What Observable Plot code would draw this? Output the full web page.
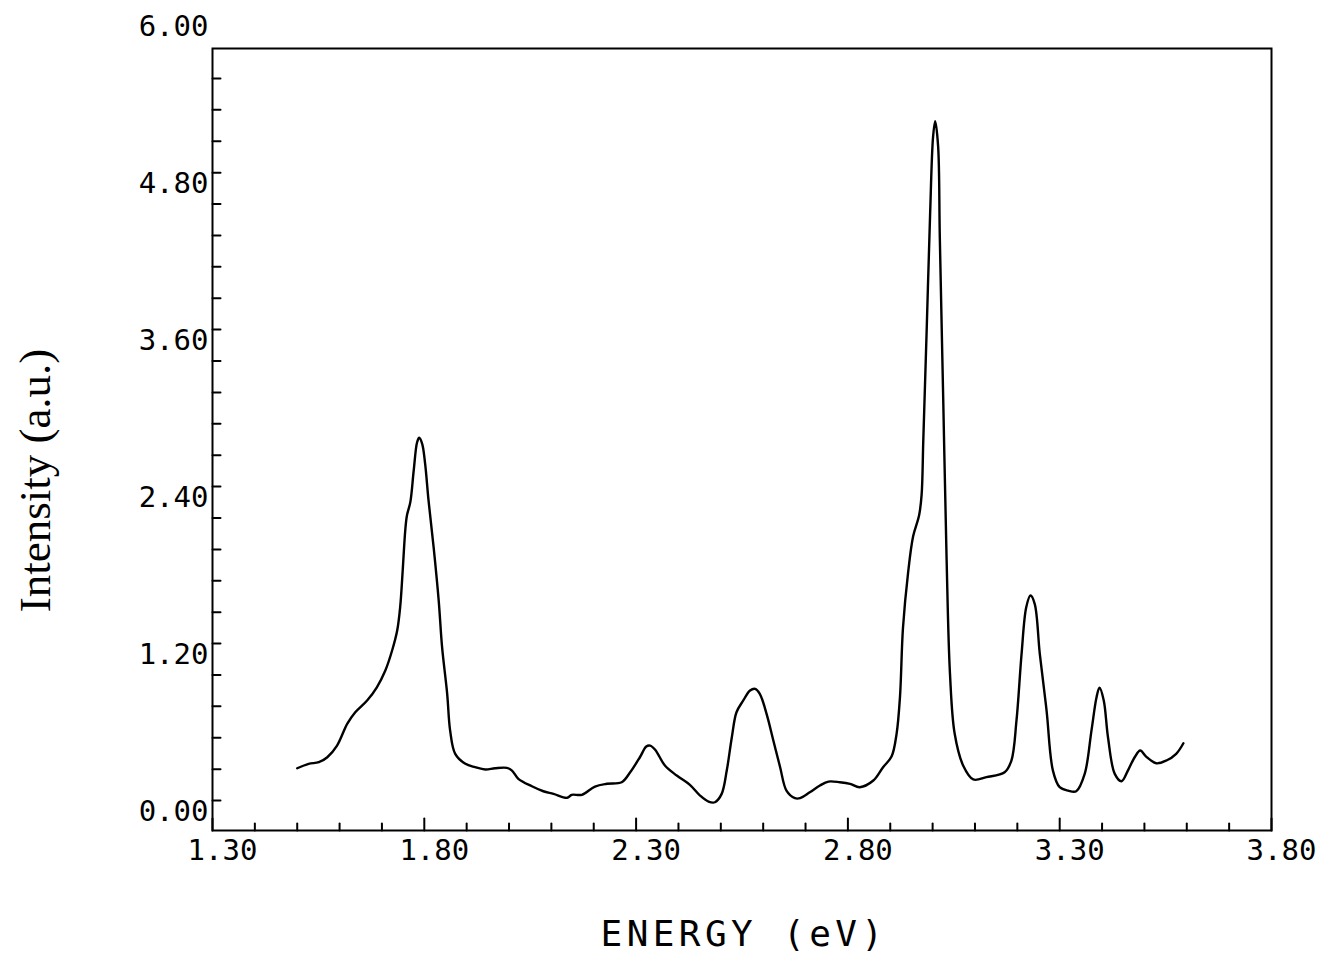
<!DOCTYPE html>
<html>
<head>
<meta charset="utf-8">
<script src="https://cdn.jsdelivr.net/npm/d3@7"></script>
<script src="https://cdn.jsdelivr.net/npm/@observablehq/plot@0.6"></script>
<style>
  html, body { margin: 0; padding: 0; background: #fff; }
  #chart svg { display: block; }
</style>
</head>
<body>
<div id="chart"></div>
<script>
// Spectrum
const energy = [
  1.500, 1.527, 1.551, 1.571, 1.594, 1.618, 1.637, 1.665, 1.688, 1.708,
  1.724, 1.736, 1.743, 1.749, 1.755, 1.759, 1.767, 1.775, 1.783, 1.788,
  1.795, 1.802, 1.810, 1.822, 1.834, 1.842, 1.854, 1.861, 1.873, 1.897,
  1.920, 1.944, 1.967, 1.995, 2.007, 2.022, 2.054, 2.081, 2.105, 2.137,
  2.148, 2.172, 2.203, 2.231, 2.266, 2.286, 2.309, 2.324, 2.333, 2.345,
  2.368, 2.396, 2.427, 2.451, 2.471, 2.486, 2.502, 2.514, 2.526, 2.537,
  2.553, 2.569, 2.581, 2.592, 2.608, 2.624, 2.640, 2.655, 2.675, 2.687,
  2.710, 2.734, 2.754, 2.781, 2.805, 2.828, 2.860, 2.883, 2.903, 2.915,
  2.923, 2.930, 2.942, 2.954, 2.968, 2.974, 2.978, 2.986, 2.994, 3.001,
  3.006, 3.013, 3.017, 3.025, 3.033, 3.041, 3.052, 3.072, 3.096, 3.127,
  3.170, 3.186, 3.198, 3.210, 3.221, 3.231, 3.241, 3.253, 3.269, 3.284,
  3.300, 3.320, 3.339, 3.359, 3.375, 3.387, 3.394, 3.404, 3.414, 3.430,
  3.446, 3.461, 3.477, 3.490, 3.504, 3.528, 3.552, 3.575, 3.592
];
const intensity = [
  0.247, 0.281, 0.293, 0.331, 0.420, 0.586, 0.675, 0.765, 0.866, 0.994,
  1.147, 1.300, 1.478, 1.758, 2.064, 2.179, 2.281, 2.523, 2.739, 2.773,
  2.727, 2.574, 2.294, 1.937, 1.529, 1.172, 0.816, 0.535, 0.357, 0.281,
  0.255, 0.237, 0.247, 0.250, 0.229, 0.166, 0.109, 0.071, 0.051, 0.021,
  0.044, 0.044, 0.107, 0.128, 0.140, 0.216, 0.331, 0.413, 0.420, 0.388,
  0.268, 0.191, 0.120, 0.038, -0.008, -0.013, 0.051, 0.229, 0.484, 0.675,
  0.765, 0.841, 0.854, 0.816, 0.663, 0.459, 0.255, 0.076, 0.018, 0.018,
  0.063, 0.115, 0.145, 0.140, 0.128, 0.102, 0.153, 0.255, 0.336, 0.512,
  0.795, 1.319, 1.739, 2.020, 2.179, 2.336, 2.757, 3.601, 4.475, 5.071,
  5.194, 5.001, 4.300, 3.073, 1.845, 0.968, 0.512, 0.268, 0.161, 0.179,
  0.216, 0.306, 0.612, 1.122, 1.478, 1.567, 1.504, 1.122, 0.688, 0.229,
  0.102, 0.076, 0.071, 0.204, 0.535, 0.790, 0.862, 0.765, 0.484, 0.204,
  0.148, 0.229, 0.331, 0.382, 0.336, 0.285, 0.306, 0.357, 0.438
];

// Axis tick values and labels
const xMajorTicks = [1.30, 1.80, 2.30, 2.80, 3.30, 3.80];
const xMinorTicks = [1.4, 1.5, 1.6, 1.7, 1.9, 2.0, 2.1, 2.2, 2.4, 2.5, 2.6, 2.7,
                     2.9, 3.0, 3.1, 3.2, 3.4, 3.5, 3.6, 3.7];
const yLabelTicks = [0.00, 1.20, 2.40, 3.60, 4.80, 6.00];
const yTicks = [0.00, 0.24, 0.48, 0.72, 0.96, 1.20, 1.44, 1.68, 1.92, 2.16, 2.40,
                2.64, 2.88, 3.12, 3.36, 3.60, 3.84, 4.08, 4.32, 4.56, 4.80,
                5.04, 5.28, 5.52];
const xTitle = "ENERGY (eV)";
const yTitle = "Intensity (a.u.)";

const data = energy.map((e, i) => ({e, v: intensity[i]}));

const tickShape = {
  draw(context, l) { context.moveTo(0, 0); context.lineTo(0, -l); }
};
const mono = "DejaVu Sans Mono";

const chart = Plot.plot({
  width: 1321,
  height: 953,
  marginLeft: 212,
  marginRight: 50,
  marginTop: 48,
  marginBottom: 123,
  style: {background: "#fff", color: "#000"},
  x: {domain: [1.30, 3.80], axis: null},
  y: {domain: [-0.229, 5.749], axis: null},
  marks: [
    Plot.frame({stroke: "#000", strokeWidth: 2}),
    // x ticks (pointing inward)
    Plot.vector(xMajorTicks, {x: d => d, frameAnchor: "bottom", length: 12, anchor: "start",
      shape: tickShape, stroke: "#000", strokeWidth: 2}),
    Plot.vector(xMinorTicks, {x: d => d, frameAnchor: "bottom", length: 7, anchor: "start",
      shape: tickShape, stroke: "#000", strokeWidth: 2}),
    // y ticks (pointing inward)
    Plot.vector(yTicks, {y: d => d, frameAnchor: "left", length: 8, anchor: "start", rotate: 90,
      shape: tickShape, stroke: "#000", strokeWidth: 2}),
    // tick labels
    Plot.text(xMajorTicks, {x: d => d, frameAnchor: "bottom", text: d => d.toFixed(2),
      textAnchor: "middle", lineAnchor: "middle",
      dx: 10, dy: 20, fontFamily: mono, fontSize: 29, fill: "#000"}),
    Plot.text(yLabelTicks, {y: d => d, frameAnchor: "left", text: d => d.toFixed(2),
      textAnchor: "end", lineAnchor: "middle",
      dx: -4, dy: 11, fontFamily: mono, fontSize: 29, fill: "#000"}),
    // axis titles
    Plot.text([xTitle], {frameAnchor: "bottom", text: d => d, textAnchor: "middle",
      lineAnchor: "middle", dx: 2, dy: 104,
      fontFamily: mono, fontSize: 36, fill: "#000"}),
    Plot.text([yTitle], {frameAnchor: "left", text: d => d, rotate: -90,
      textAnchor: "middle", lineAnchor: "middle", dx: -177, dy: 41,
      fontFamily: "Liberation Serif", fontSize: 45, fill: "#000"}),
    // spectrum
    Plot.line(data, {x: "e", y: "v", curve: "catmull-rom", stroke: "#000", strokeWidth: 2.4})
  ]
});
// wider letter spacing for the plotter-style x title
d3.select(chart).selectAll("text")
  .filter(function() { return this.textContent === xTitle; })
  .style("letter-spacing", "4.4px");
document.getElementById("chart").appendChild(chart);
</script>
</body>
</html>
